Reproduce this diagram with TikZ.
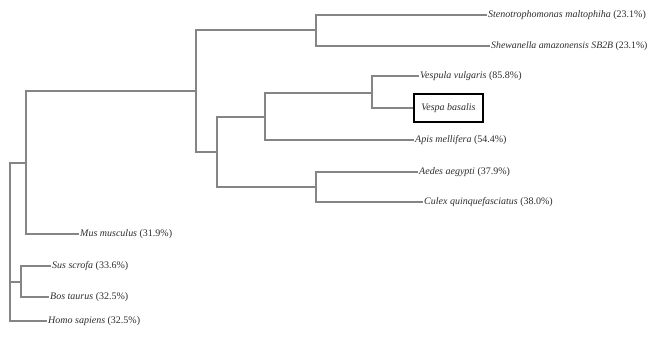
\documentclass[tikz,border=0pt]{standalone}
\usepackage{fontspec}
\setmainfont{Liberation Serif}
\definecolor{branch}{HTML}{858585}
\definecolor{lbl}{HTML}{2E2E2E}
\begin{document}
\begin{tikzpicture}[x=1pt,y=-1pt,
  leaf/.style={anchor=west,inner sep=1pt,text=lbl,font=\fontsize{10}{12}\selectfont},
  boxed/.style={anchor=west,draw=black,line width=1.8pt,minimum width=69pt,minimum height=28pt,text=lbl,font=\fontsize{10}{12}\selectfont},
  br/.style={draw=branch,line width=1.1pt}]
\useasboundingbox[fill=white] (0,0) rectangle (651,337);
% leaves
\node[leaf] (steno) at (487,15) {\textit{Stenotrophomonas maltophiha} (23.1\%)};
\node[leaf,font=\fontsize{9.8}{12}\selectfont] (shew) at (490,46) {\textit{Shewanella amazonensis SB2B} (23.1\%)};
\node[leaf] (vvul) at (419,76) {\textit{Vespula vulgaris} (85.8\%)};
\node[boxed] (vbas) at (413,108) {\textit{Vespa basalis}};
\node[leaf] (apis) at (414,140) {\textit{Apis mellifera} (54.4\%)};
\node[leaf] (aedes) at (418,172) {\textit{Aedes aegypti} (37.9\%)};
\node[leaf] (culex) at (423,202) {\textit{Culex quinquefasciatus} (38.0\%)};
\node[leaf] (mus) at (79,234) {\textit{Mus musculus} (31.9\%)};
\node[leaf] (sus) at (51,266) {\textit{Sus scrofa} (33.6\%)};
\node[leaf] (bos) at (49,297) {\textit{Bos taurus} (32.5\%)};
\node[leaf] (homo) at (47,321) {\textit{Homo sapiens} (32.5\%)};
% internal nodes
\coordinate (nbact) at (316,30);
\coordinate (nvesp) at (372,93);
\coordinate (nhym) at (265,117);
\coordinate (nmosq) at (316,187);
\coordinate (nins) at (217,152);
\coordinate (ninv) at (196,91);
\coordinate (nmus) at (26,163);
\coordinate (nung) at (21,282);
\coordinate (root) at (10,242);
% branches
\draw[br] (nbact) |- (steno.west);
\draw[br] (nbact) |- (shew.west);
\draw[br] (nvesp) |- (vvul.west);
\draw[br] (nvesp) |- (vbas.west);
\draw[br] (nhym) |- (nvesp);
\draw[br] (nhym) |- (apis.west);
\draw[br] (nmosq) |- (aedes.west);
\draw[br] (nmosq) |- (culex.west);
\draw[br] (nins) |- (nhym);
\draw[br] (nins) |- (nmosq);
\draw[br] (ninv) |- (nbact);
\draw[br] (ninv) |- (nins);
\draw[br] (nmus) |- (ninv);
\draw[br] (nmus) |- (mus.west);
\draw[br] (nung) |- (sus.west);
\draw[br] (nung) |- (bos.west);
\draw[br] (root) |- (nmus);
\draw[br] (root) |- (nung);
\draw[br] (root) |- (homo.west);
\end{tikzpicture}
\end{document}
